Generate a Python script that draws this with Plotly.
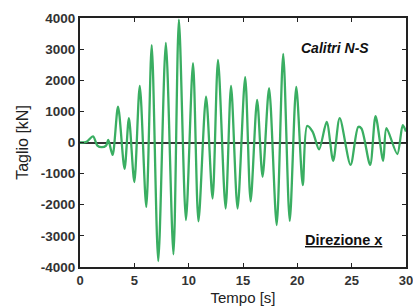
import plotly.graph_objects as go

# Extrema of the shear time history
time_s = [0.0, 0.6, 1.2, 1.6, 2.0, 2.4, 2.6, 3.0, 3.5, 4.1, 4.5, 5.0, 5.5, 6.1, 6.6, 7.2,
          7.9, 8.6, 9.1, 9.75, 10.4, 10.9, 11.6, 12.2, 12.7, 13.4, 13.9, 14.5, 15.2, 15.7,
          16.3, 16.8, 17.4, 18.1, 18.7, 19.3, 19.9, 20.5, 20.9, 21.4, 22.0, 22.7, 23.3,
          23.9, 24.9, 25.6, 25.9, 26.7, 27.2, 27.9, 28.2, 29.2, 29.7, 30.0]
taglio_kN = [0, 20, 200, -100, -150, -100, 80, -400, 1150, -850, 780, -1270, 1820, -2070,
             3130, -3810, 3200, -3590, 3950, -2490, 2550, -2530, 1470, -1800, 2650, -2120,
             1820, -2120, 2100, -1890, 1370, -1100, 1750, -2650, 2850, -2520, 1790, -1370,
             530, 350, -220, 660, -590, 780, -720, 500, 450, -720, 850, -590, 460, -370,
             560, 350]

x_ticks = [0, 5, 10, 15, 20, 25, 30]
y_ticks = [-4000, -3000, -2000, -1000, 0, 1000, 2000, 3000, 4000]

FONT = "Liberation Sans, Arial, sans-serif"

fig = go.Figure()
fig.add_trace(go.Scatter(x=time_s, y=taglio_kN, mode="lines",
                         line=dict(color="#3aae62", width=2.3, shape="spline", smoothing=0.8),
                         hoverinfo="skip"))

fig.update_layout(
    width=413, height=306,
    margin=dict(l=80, r=7, t=18, b=39),
    paper_bgcolor="white", plot_bgcolor="white",
    showlegend=False,
    font=dict(family=FONT, color="#222222"),
    xaxis=dict(range=[0, 30], tickvals=x_ticks, ticktext=[f"<b>{v}</b>" for v in x_ticks],
               ticks="inside", ticklen=4, tickcolor="#222", automargin=False,
               ticklabeloverflow="allow",
               showgrid=False, zeroline=False, showline=True, linecolor="#222", linewidth=2,
               mirror="ticks",
               tickfont=dict(family=FONT, size=13, color="#333"),
               title=dict(text="Tempo [s]", standoff=6,
                          font=dict(family=FONT, size=15, color="#222"))),
    yaxis=dict(range=[-4000, 4000], tickvals=y_ticks, ticktext=[f"<b>{v}</b>" for v in y_ticks],
               ticks="inside", ticklen=4, tickcolor="#222", automargin=False,
               ticklabeloverflow="allow",
               showgrid=False, zeroline=True, zerolinecolor="#333", zerolinewidth=1.5,
               showline=True, linecolor="#222", linewidth=2, mirror="ticks",
               tickfont=dict(family=FONT, size=13.5, color="#333"),
               title=dict(text="Taglio [kN]", standoff=8,
                          font=dict(family=FONT, size=16, color="#222"))),
    annotations=[
        dict(x=0.893, y=0.88, xref="paper", yref="paper", xanchor="right", yanchor="middle",
             text="<b><i>Calitri N-S</i></b>", showarrow=False,
             font=dict(family=FONT, size=14, color="#111")),
        dict(x=0.933, y=0.108, xref="paper", yref="paper", xanchor="right", yanchor="middle",
             text="<b><u>Direzione x</u></b>", showarrow=False,
             font=dict(family=FONT, size=14.5, color="#111")),
    ],
)

fig.write_html("out.html", config={"displayModeBar": False},
               post_script="document.body.style.margin='0';")
